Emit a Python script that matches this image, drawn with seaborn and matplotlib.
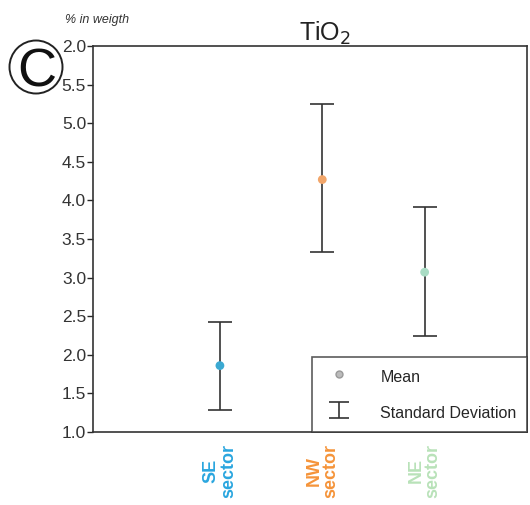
import matplotlib
matplotlib.use("Agg")
import numpy as np
import pandas as pd
import matplotlib.pyplot as plt
import seaborn as sns
from matplotlib.lines import Line2D
from matplotlib.patches import Circle

# ------------------------------------------------------------------
# DONNÉES
# ------------------------------------------------------------------
sectors = ["SE\nsector", "NW\nsector", "NE\nsector"]
means = [1.86, 4.27, 3.07]
sd_upper = [2.43, 5.25, 3.92]
sd_lower = [1.28, 3.33, 2.24]
yticks = [1.0, 1.5, 2.0, 2.5, 3.0, 3.5, 4.0, 4.5, 5.0, 5.5, 6.0]
ytick_labels = ["1.0", "1.5", "2.0", "2.5", "3.0", "3.5", "4.0", "4.5", "5.0", "5.5", "2.0"]

label_colors = ["#2aa6df", "#f5943a", "#b9e2b9"]
point_colors = ["#3ba9d2", "#f2a66a", "#a9dcc4"]

df = pd.DataFrame({"sector": sectors, "mean": means,
                   "lo": sd_lower, "hi": sd_upper})

sns.set_style("white")
plt.rcParams['font.family'] = ['Liberation Sans', 'DejaVu Sans']

fig = plt.figure(figsize=(5.3, 5.05), dpi=100)
ax = fig.add_axes([93 / 530, 1 - 432 / 505, 434 / 530, 386 / 505])

x = np.arange(len(sectors))
ax.errorbar(x, df["mean"],
            yerr=[df["mean"] - df["lo"], df["hi"] - df["mean"]],
            fmt="none", ecolor="#333333", elinewidth=1.2, capsize=8.5, capthick=1.2)
sns.scatterplot(data=df, x=x, y="mean", hue="sector", palette=point_colors,
                s=40, edgecolor="none", legend=False, ax=ax, zorder=3)

ax.set_xlim(-1.24, 3.0)
ax.set_ylim(1.0, 6.0)
ax.set_yticks(yticks)
ax.set_yticklabels(ytick_labels, fontsize=12.5, color="#333333")
ax.set_xticks(x)
ax.set_xticklabels([])
ax.tick_params(axis="y", direction="out", length=4, width=1, left=True, pad=1)
ax.tick_params(axis="x", length=0)
ax.set_xlabel("")
ax.set_ylabel("")
for s in ax.spines.values():
    s.set_color("#333333")
    s.set_linewidth(1.2)

# étiquettes de secteurs (verticales, colorées)
for xi, lab, col in zip(x, sectors, label_colors):
    ax.text(xi, -0.03, lab, rotation=90, transform=ax.get_xaxis_transform(),
            ha="center", va="top", fontsize=13, color=col, fontweight="bold",
            linespacing=1.0)

# légende
sd_handle = ax.errorbar([np.nan], [np.nan], yerr=[[1], [1]], fmt="none",
                        ecolor="#333333", capsize=7, elinewidth=1.2, capthick=1.2)
handles = [Line2D([], [], marker="o", ls="none", markersize=5,
                  markerfacecolor="#bbbbbb", markeredgecolor="#999999"),
           sd_handle]
leg = ax.legend(handles, ["Mean", "Standard Deviation"], loc="lower right",
                frameon=True, fancybox=False, fontsize=11.5,
                borderaxespad=0, handletextpad=1.6, borderpad=0.65,
                handlelength=2.0, handleheight=1.4, labelspacing=1.1)
leg.get_frame().set_edgecolor("#333333")
leg.get_frame().set_linewidth(1.2)

# titres
fig.text(325 / 530, 1 - 33 / 505, "TiO$_2$", ha="center", va="center",
         fontsize=18, color="#222222")
fig.text(65 / 530, 1 - 20 / 505, "% in weigth", ha="left", va="center",
         fontsize=9, style="italic", color="#333333")
fig.patches.append(Circle((0.36, (505 - 67) / 100), 0.265,
                          transform=fig.dpi_scale_trans, fill=False,
                          ec="#222222", lw=1.4))
fig.text(37 / 530, 1 - 87 / 505, "C", ha="center", va="baseline",
         fontsize=39, color="#111111")

plt.savefig("out.png", dpi=100)
plt.close()
